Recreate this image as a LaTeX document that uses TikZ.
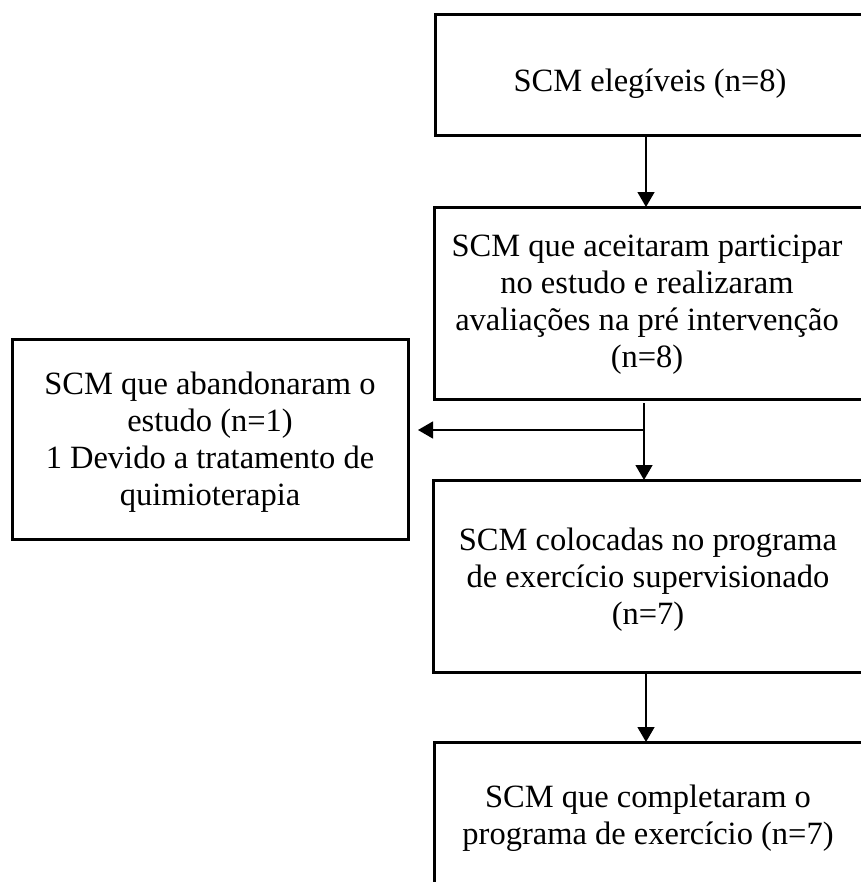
\documentclass[tikz,border=0pt]{standalone}
\usepackage{fontspec}
\setmainfont{Liberation Serif}
\usetikzlibrary{arrows.meta}
\begin{document}
\begin{tikzpicture}[x=1bp,y=-1bp,
  box/.style={draw, line width=3bp, inner sep=0pt, outer sep=0pt},
  lbl/.style={align=center, font=\fontsize{32.5bp}{37bp}\selectfont, inner sep=0pt},
  arr/.style={line width=1.4bp, -{Triangle[width=17bp,length=15bp]}},
  ln/.style={line width=1.4bp}]
\useasboundingbox (0,0) rectangle (861,882);
\clip (0,0) rectangle (861,882);
% boxes
\node[box, minimum width=435bp, minimum height=120bp] (b1) at (652.5,75) {};
\node[box, minimum width=436bp, minimum height=192bp] (b2) at (652,303) {};
\node[box, minimum width=395bp, minimum height=200bp] (b3) at (210.5,439) {};
\node[box, minimum width=437bp, minimum height=192bp] (b4) at (651.5,576) {};
\node[box, minimum width=436bp, minimum height=218bp] (b5) at (652,851) {};
% texts
\node[lbl] (t1) at (650,84) {SCM elegíveis (n=8)};
\node[lbl] (t2) at (647,305) {SCM que aceitaram participar\\no estudo e realizaram\\avaliações na pré intervenção\\(n=8)};
\node[lbl] (t3) at (210,442) {SCM que abandonaram o\\estudo (n=1)\\1 Devido a tratamento de\\quimioterapia};
\node[lbl] (t4) at (648,580) {SCM colocadas no programa\\de exercício supervisionado\\(n=7)};
\node[lbl] (t5) at (648,818) {SCM que completaram o\\programa de exercício (n=7)};
% connectors
\coordinate (ax) at (646,0);
\coordinate (sp) at (644,403);
\coordinate (jn) at (644,430);
\draw[arr] (b1.south -| ax) -- (b2.north -| ax);
\draw[arr] (sp) -- (b4.north -| sp);
\draw[arr, shorten >=10bp] (jn) -- (jn -| b3.east);
\draw[arr] (b4.south -| ax) -- (b5.north -| ax);
\end{tikzpicture}
\end{document}
